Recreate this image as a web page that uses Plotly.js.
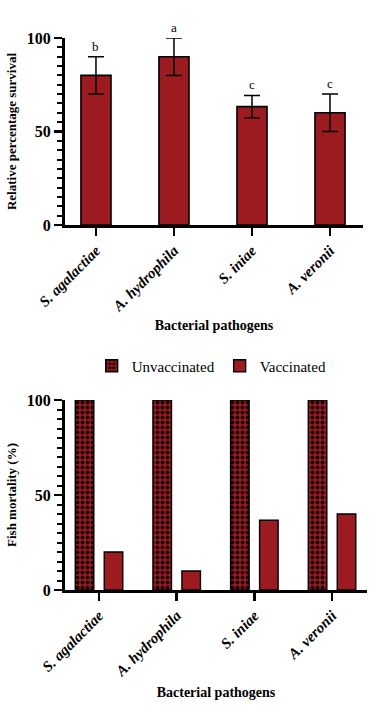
<!DOCTYPE html>
<html>
<head>
<meta charset="utf-8">
<script src="https://cdn.plot.ly/plotly-3.0.1.min.js"></script>
<style>html,body{margin:0;padding:0;background:#fff}#chart{width:382px;height:717px}</style>
</head>
<body>
<div id="chart"></div>
<script>
// ---- data ----
const pathogens = ['S. agalactiae', 'A. hydrophila', 'S. iniae', 'A. veronii'];
const survivalMean = [80, 90, 63.3, 60];
const survivalErr = [10, 10, 6, 10];
const significance = ['b', 'a', 'c', 'c'];
const mortalityUnvaccinated = [100, 100, 100, 100];
const mortalityVaccinated = [20, 10, 36.7, 40];
const yTicks = [0, 50, 100];

const RED = '#9c1b20';
const FONT = 'Liberation Serif';

const traces = [
  {
    type: 'bar', x: pathogens, y: survivalMean, xaxis: 'x', yaxis: 'y',
    width: 0.385, showlegend: false, cliponaxis: false,
    marker: {color: RED, line: {color: '#000', width: 1.6}},
    error_y: {type: 'data', array: survivalErr, visible: true, color: '#000', thickness: 1.5, width: 8}
  },
  {
    type: 'bar', name: 'Unvaccinated', x: pathogens, y: mortalityUnvaccinated, xaxis: 'x2', yaxis: 'y2',
    cliponaxis: false,
    marker: {color: RED, line: {color: '#000', width: 1.4},
      pattern: {shape: '.', fgcolor: '#1a0606', bgcolor: RED, size: 5, solidity: 0.5, fillmode: 'replace'}}
  },
  {
    type: 'bar', name: 'Vaccinated', x: pathogens, y: mortalityVaccinated, xaxis: 'x2', yaxis: 'y2',
    cliponaxis: false,
    marker: {color: RED, line: {color: '#000', width: 1.4}}
  }
];

const annotations = pathogens.map((p, i) => ({
  x: p, y: survivalMean[i] + survivalErr[i], xref: 'x', yref: 'y',
  text: significance[i], showarrow: false, yanchor: 'bottom', yshift: 1,
  font: {family: FONT, size: 13, color: '#000'}
}));

const yBase = {
  range: [0, 100], tickmode: 'array', tickvals: yTicks, ticktext: yTicks.map(v => '<b>' + v + '</b>'),
  ticks: 'outside', ticklen: 8, tickwidth: 2.5, tickcolor: '#000',
  showline: true, linewidth: 3, linecolor: '#000', showgrid: false, zeroline: false,
  tickfont: {family: FONT, size: 16, color: '#000'},
  minor: {dtick: 5, ticks: 'outside', ticklen: 5, tickwidth: 2, tickcolor: '#000', showgrid: false},
  automargin: false, fixedrange: true
};
const xBase = {
  type: 'category', tickmode: 'array', tickvals: pathogens, ticktext: pathogens.map(p => '<b><i>' + p + '</i></b>'),
  ticks: 'outside', ticklen: 8, tickwidth: 2.5, tickcolor: '#000',
  showline: true, linewidth: 3, linecolor: '#000', showgrid: false, zeroline: false,
  tickangle: -45, tickfont: {family: FONT, size: 15, color: '#000'},
  automargin: false, fixedrange: true
};

const layout = {
  width: 382, height: 717, margin: {l: 0, r: 0, t: 0, b: 0},
  paper_bgcolor: '#fff', plot_bgcolor: '#fff',
  font: {family: FONT, color: '#000'},
  barmode: 'group', bargap: 0.254, bargroupgap: 0.36,
  xaxis: Object.assign({}, xBase, {domain: [65/382, 363/382], range: [-0.397, 3.423], anchor: 'y',
    title: {text: '<b>Bacterial pathogens</b>', font: {family: FONT, size: 14}, standoff: 7}}),
  yaxis: Object.assign({}, yBase, {domain: [1 - 225/717, 1 - 38/717], anchor: 'x',
    title: {text: '<b>Relative percentage survival</b>', font: {family: FONT, size: 13}, standoff: 8}}),
  xaxis2: Object.assign({}, xBase, {domain: [65/382, 367/382], range: [-0.438, 3.45], anchor: 'y2',
    title: {text: '<b>Bacterial pathogens</b>', font: {family: FONT, size: 14}, standoff: 9}}),
  yaxis2: Object.assign({}, yBase, {domain: [1 - 590/717, 1 - 400/717], anchor: 'x2',
    title: {text: '<b>Fish mortality (%)</b>', font: {family: FONT, size: 13}, standoff: 8}}),
  legend: {orientation: 'h', x: 0.24, xanchor: 'left', y: 1 - 366/717, yanchor: 'middle',
    font: {family: FONT, size: 15, color: '#000'}, itemwidth: 30, traceorder: 'normal'},
  annotations: annotations,
  showlegend: true
};

Plotly.newPlot('chart', traces, layout, {displayModeBar: false, staticPlot: true});
</script>
</body>
</html>
